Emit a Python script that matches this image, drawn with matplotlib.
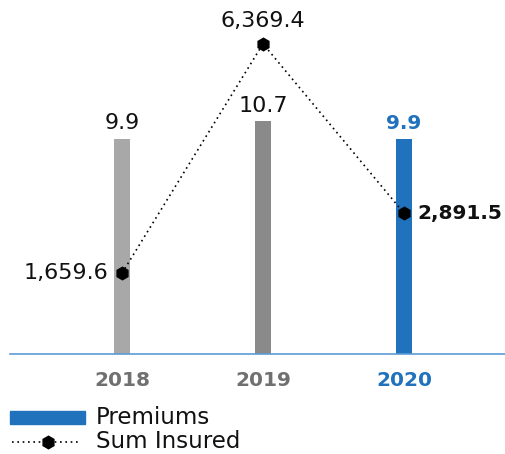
import matplotlib
matplotlib.use("Agg")
import matplotlib.pyplot as plt
from matplotlib.patches import Rectangle
from matplotlib.lines import Line2D

plt.rcParams['font.family'] = ['DejaVu Sans']

years = ["2018", "2019", "2020"]
premiums = [9.9, 10.7, 9.9]
sum_insured = [1659.6, 6369.4, 2891.5]
premium_labels = ["9.9", "10.7", "9.9"]
sum_labels = ["1,659.6", "6,369.4", "2,891.5"]
bar_colors = ["#a8a8a8", "#8a8a8b", "#1f72bb"]
tick_colors = ["#707070", "#707070", "#1f72bb"]

W, H = 505, 454
fig = plt.figure(figsize=(W / 100, H / 100), dpi=100)
ax_left, ax_right = 10 / W, 505 / W
ax_bottom, ax_top = 1 - 354 / H, 1 - 20 / H
ax = fig.add_axes([ax_left, ax_bottom, ax_right - ax_left, ax_top - ax_bottom])
x = list(range(len(years)))
ax.bar(x, premiums, width=16 / 141, color=bar_colors, zorder=2)
ax.set_xlim(-112 / 141, 2 + 101 / 141)
ax.set_ylim(0, 334 / 21.75)
for s in ["top", "right", "left"]:
    ax.spines[s].set_visible(False)
ax.spines["bottom"].set_color("#5b9bd5")
ax.spines["bottom"].set_linewidth(1.2)
ax.set_yticks([])
ax.set_xticks(x)
ax.set_xticklabels(years, fontsize=14.5, fontweight="bold")
for lbl, c in zip(ax.get_xticklabels(), tick_colors):
    lbl.set_color(c)
ax.tick_params(axis="x", length=0, pad=12)

for i, (v, t) in enumerate(zip(premiums, premium_labels)):
    bold = i == 2
    ax.annotate(t, (i, v), xytext=(0, 4), textcoords="offset points",
                ha="center", va="bottom", fontsize=14.5 if bold else 16,
                fontweight="bold" if bold else "normal",
                color="#1f72bb" if bold else "#111111")

ax2 = ax.twinx()
ax2.set_ylim(0, 334 / 0.0487)
ax2.axis("off")
ax2.plot(x, sum_insured, color="black", linestyle=(0, (1, 2.2)), linewidth=1.2,
         marker="h", markersize=9, markerfacecolor="black", zorder=3)
ax2.annotate(sum_labels[0], (0, sum_insured[0]), xytext=(-10, 0), textcoords="offset points",
             ha="right", va="center", fontsize=16, color="#111111")
ax2.annotate(sum_labels[1], (1, sum_insured[1]), xytext=(0, 9), textcoords="offset points",
             ha="center", va="bottom", fontsize=16, color="#111111")
ax2.annotate(sum_labels[2], (2, sum_insured[2]), xytext=(9.5, 0), textcoords="offset points",
             ha="left", va="center", fontsize=14.5, fontweight="bold", color="#111111")

# legend
fig.add_artist(Rectangle((10 / W, 1 - 424 / H), 75 / W, 13 / H, transform=fig.transFigure,
                         color="#1f72bb"))
fig.text(96 / W, 1 - 417 / H, "Premiums", fontsize=16.5, va="center", ha="left", color="#111111")
fig.add_artist(Line2D([12 / W, 80 / W], [1 - 442 / H, 1 - 442 / H], transform=fig.transFigure,
                      color="black", linestyle=(0, (1, 2.2)), linewidth=1.2))
fig.add_artist(Line2D([48 / W], [1 - 442 / H], transform=fig.transFigure, color="black",
                      marker="h", markersize=9))
fig.text(96 / W, 1 - 441 / H, "Sum Insured", fontsize=16.5, va="center", ha="left", color="#111111")

fig.savefig("out.png", dpi=100)
